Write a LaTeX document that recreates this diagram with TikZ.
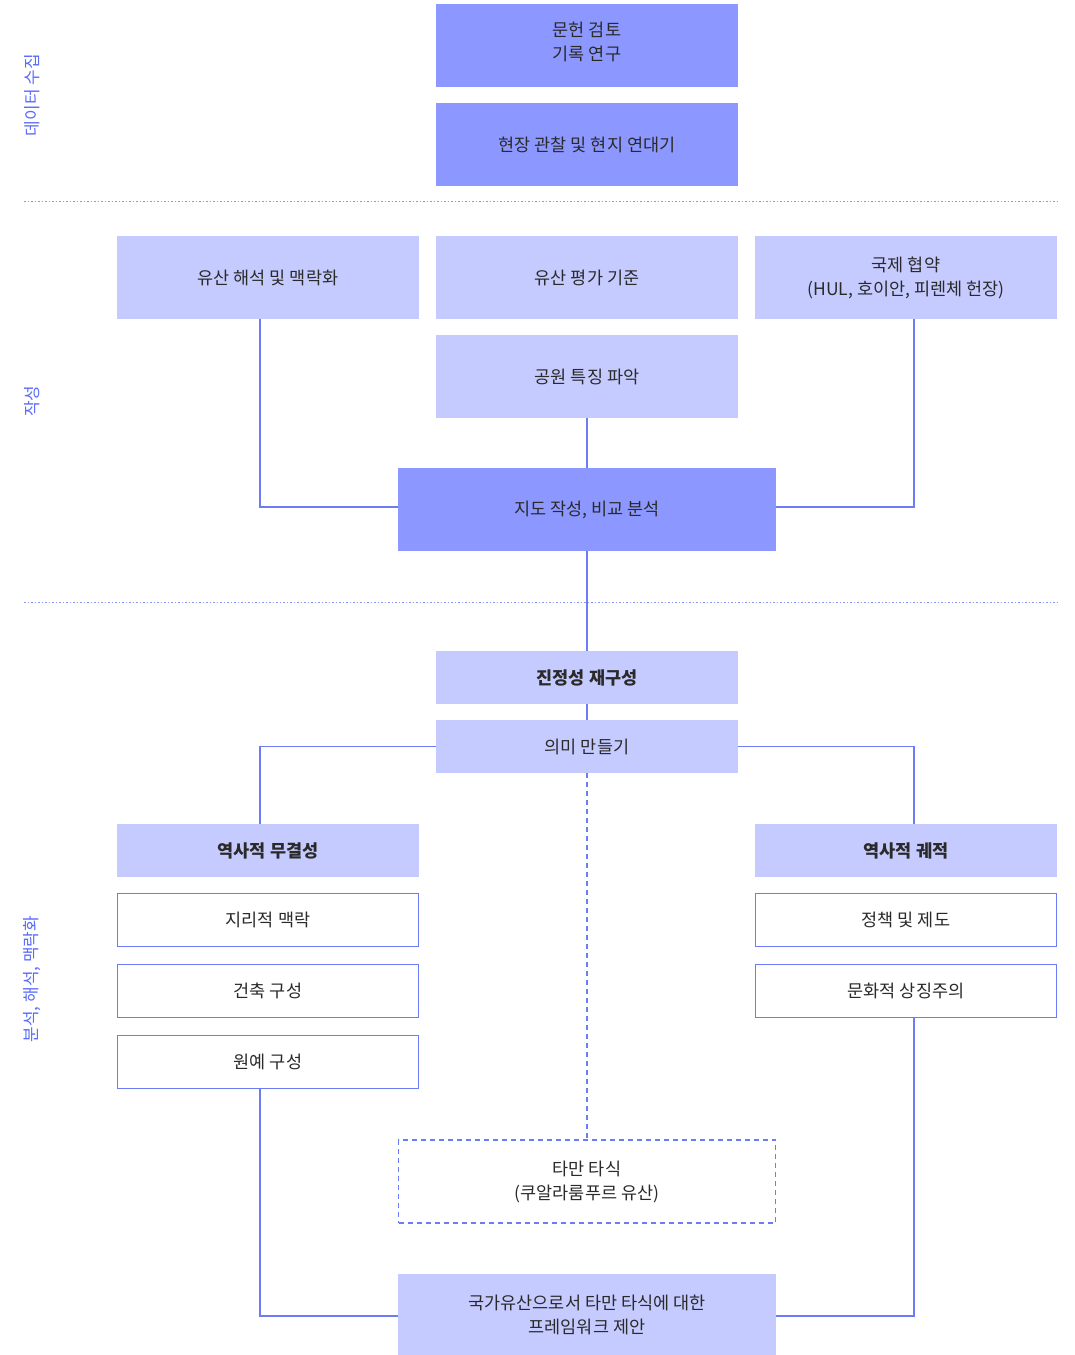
\documentclass[tikz,border=0pt]{standalone}
\usepackage{fontspec}
\setmainfont{Noto Sans CJK KR}
\definecolor{darkbox}{HTML}{8C98FF}
\definecolor{lightbox}{HTML}{C6CBFF}
\definecolor{edge}{HTML}{6C7CF5}
\definecolor{sidecol}{HTML}{5B6CFA}
\definecolor{txt}{HTML}{2A2A2A}
\begin{document}
\begin{tikzpicture}[x=1pt,y=-1pt,
  base/.style={rectangle,inner sep=0pt,align=center,text=txt,font=\fontsize{17.5}{24}\selectfont},
  dbox/.style={base,fill=darkbox,minimum width=302pt,minimum height=83pt},
  lbox/.style={base,fill=lightbox,minimum width=302pt,minimum height=83pt},
  hbox/.style={base,fill=lightbox,minimum width=302pt,minimum height=53pt},
  wbox/.style={base,fill=white,draw=edge,line width=1.2pt,minimum width=301pt,minimum height=53pt},
  conn/.style={draw=edge,line width=1.3pt},
  sep/.style={draw=edge!80,line width=1pt,dash pattern=on 1.5pt off 2pt},
  side/.style={text=sidecol,rotate=90,font=\fontsize{17}{18}\selectfont}]
\useasboundingbox (0,0) rectangle (1074,1355);
% separators
\coordinate (s1a) at (24,201); \coordinate (s1b) at (1060,201);
\coordinate (s2a) at (24,602); \coordinate (s2b) at (1060,602);
\draw[sep] (s1a) -- (s1b);
\draw[sep] (s2a) -- (s2b);
% side labels
\node[side] (L1) at (32,95) {데이터 수집};
\node[side] (L2) at (32,401) {작성};
\node[side] (L3) at (32,979) {분석, 해석, 맥락화};
% data collection
\node[dbox] (lit) at (587,45.5) {문헌 검토\\기록 연구\\[-16pt]\mbox{}};
\node[dbox] (field) at (587,144.5) {현장 관찰 및 현지 연대기};
% mapping
\node[lbox] (interp) at (268,277.5) {유산 해석 및 맥락화};
\node[lbox] (crit) at (587,277.5) {유산 평가 기준};
\node[lbox] (intl) at (906,277.5) {국제 협약\\(HUL, 호이안, 피렌체 헌장)};
\node[lbox] (park) at (587,376.5) {공원 특징 파악};
\node[dbox,minimum width=378pt] (map) at (587,509.5) {지도 작성, 비교 분석};
% analysis
\node[hbox] (auth) at (587,677.5) {\bfseries 진정성 재구성};
\node[hbox] (mean) at (587,746.5) {의미 만들기};
\node[hbox] (integ) at (268,850.5) {\bfseries 역사적 무결성};
\node[wbox] (geo) at (268,920) {지리적 맥락};
\node[wbox] (arch) at (268,991) {건축 구성};
\node[wbox] (hort) at (268,1062) {원예 구성};
\node[hbox] (traj) at (906,850.5) {\bfseries 역사적 궤적};
\node[wbox] (pol) at (906,920) {정책 및 제도};
\node[wbox] (cult) at (906,991) {문화적 상징주의};
\node[base,draw=edge,line width=1.2pt,dash pattern=on 5pt off 4pt,minimum width=377pt,minimum height=83pt] (taman) at (587,1181.5) {타만 타식\\(쿠알라룸푸르 유산)};
\node[lbox,minimum width=378pt,minimum height=81pt] (frame) at (587,1314.5) {국가유산으로서 타만 타식에 대한\\프레임워크 제안};
% connectors
\draw[conn] ([xshift=-8pt]interp.south) |- ([yshift=2.5pt]map.west);
\draw[conn] ([xshift=8pt]intl.south) |- ([yshift=2.5pt]map.east);
\draw[conn] (park) -- (map);
\draw[conn] (map) -- (auth);
\draw[conn] (auth) -- (mean);
\draw[conn] (mean.west) -| ([xshift=-8pt]integ.north);
\draw[conn] (mean.east) -| ([xshift=8pt]traj.north);
\draw[draw=edge,line width=1.3pt,dash pattern=on 5pt off 4pt] (mean) -- (taman);
\draw[conn] ([xshift=-8pt]hort.south) |- ([yshift=-1.5pt]frame.west);
\draw[conn] ([xshift=8pt]cult.south) |- ([yshift=-1.5pt]frame.east);
\end{tikzpicture}
\end{document}
